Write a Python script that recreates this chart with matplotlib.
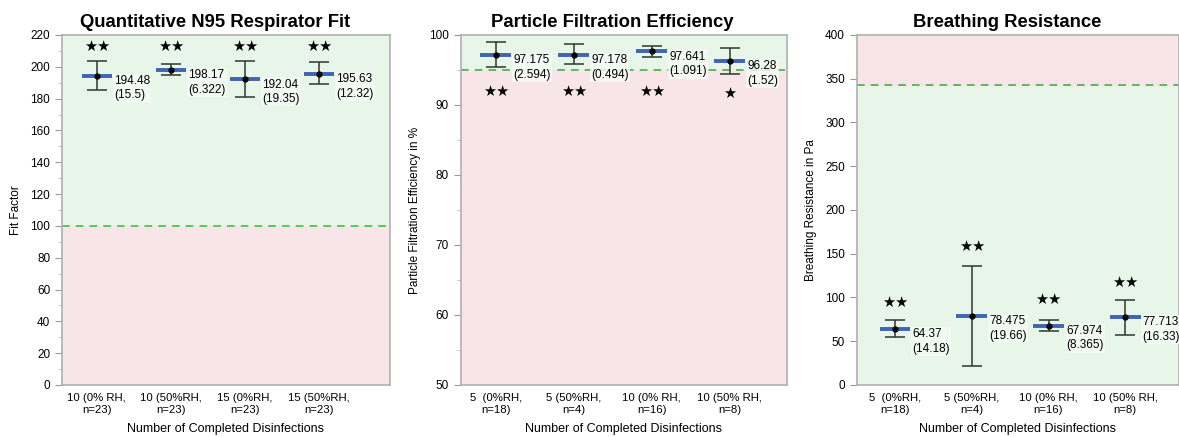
import numpy as np
import matplotlib.pyplot as plt
from matplotlib.ticker import MultipleLocator

plt.rcParams['font.family'] = ['Liberation Sans', 'DejaVu Sans']

# panel 1: fit factor
fit_labels = ['10 (0% RH,\nn=23)', '10 (50%RH,\nn=23)', '15 (0%RH,\nn=23)', '15 (50%RH,\nn=23)']
fit_mean = [194.48, 198.17, 192.04, 195.63]
fit_sd = ['15.5', '6.322', '19.35', '12.32']
fit_lo = [185.5, 194.6, 180.7, 188.9]
fit_hi = [203.6, 201.9, 203.6, 202.8]
fit_star = ['★★', '★★', '★★', '★★']
fit_star_y = [212.5, 212.5, 212.5, 212.5]

# panel 2: particle filtration efficiency
pfe_labels = ['5  (0%RH,\nn=18)', '5 (50%RH,\nn=4)', '10 (0% RH,\nn=16)', '10 (50% RH,\nn=8)']
pfe_mean = [97.175, 97.178, 97.641, 96.28]
pfe_sd = ['2.594', '0.494', '1.091', '1.52']
pfe_lo = [95.4, 95.8, 96.9, 94.4]
pfe_hi = [99.0, 98.7, 98.4, 98.2]
pfe_star = ['★★', '★★', '★★', '★']
pfe_star_y = [92.0, 92.0, 92.0, 91.6]

# panel 3: breathing resistance
br_labels = ['5  (0%RH,\nn=18)', '5 (50%RH,\nn=4)', '10 (0% RH,\nn=16)', '10 (50% RH,\nn=8)']
br_mean = [64.37, 78.475, 67.974, 77.713]
br_sd = ['14.18', '19.66', '8.365', '16.33']
br_lo = [54.4, 21.3, 61.6, 57.5]
br_hi = [74.1, 135.7, 74.6, 97.7]
br_star = ['★★', '★★', '★★', '★★']
br_star_y = [94.0, 158.5, 98.0, 117.5]

green_bg = '#e7f6e9'
pink_bg = '#f8e5e7'

fig = plt.figure(figsize=(11.79, 4.37), dpi=100)

panels = [
    dict(rect=[0.0526, 0.119, 0.278, 0.801], title='Quantitative N95 Respirator Fit',
         ylabel='Fit Factor', labels=fit_labels, mean=fit_mean, sd=fit_sd, lo=fit_lo, hi=fit_hi,
         star=fit_star, star_y=fit_star_y, ylim=(0, 220), major=20, minor=10,
         thr=100, good_above=True, thr_color='#22c822', xlim=(-0.47, 3.96)),
    dict(rect=[0.3908, 0.119, 0.2765, 0.801], title='Particle Filtration Efficiency',
         ylabel='Particle Filtration Efficiency in %', labels=pfe_labels, mean=pfe_mean, sd=pfe_sd,
         lo=pfe_lo, hi=pfe_hi, star=pfe_star, star_y=pfe_star_y, ylim=(50, 100), major=10, minor=5,
         thr=95, good_above=True, thr_color='#3aa83a', xlim=(-0.45, 3.73)),
    dict(rect=[0.7266, 0.119, 0.2734, 0.801], title='Breathing Resistance',
         ylabel='Breathing Resistance in Pa', labels=br_labels, mean=br_mean, sd=br_sd,
         lo=br_lo, hi=br_hi, star=br_star, star_y=br_star_y, ylim=(0, 400), major=50, minor=None,
         thr=343, good_above=False, thr_color='#3aa83a', xlim=(-0.5, 3.70)),
]

for p in panels:
    ax = fig.add_axes(p['rect'])
    x = np.arange(len(p['mean']))
    y0, y1 = p['ylim']
    ax.set_xlim(*p['xlim'])
    ax.set_ylim(y0, y1)
    if p['good_above']:
        ax.axhspan(p['thr'], y1, color=green_bg, zorder=0)
        ax.axhspan(y0, p['thr'], color=pink_bg, zorder=0)
    else:
        ax.axhspan(y0, p['thr'], color=green_bg, zorder=0)
        ax.axhspan(p['thr'], y1, color=pink_bg, zorder=0)
    ax.axhline(p['thr'], color=p['thr_color'], ls=(0, (5, 4)), lw=1.1, zorder=1)

    mean = np.array(p['mean'])
    lo = np.array(p['lo'])
    hi = np.array(p['hi'])
    ax.errorbar(x, mean, yerr=[mean - lo, hi - mean], fmt='none', ecolor='#2b3a2c',
                elinewidth=1.1, capsize=7, capthick=1.1, zorder=3)
    ax.hlines(mean, x - 0.2, x + 0.2, color='#3e64b4', lw=2.8, zorder=4)
    ax.plot(x, mean, 'o', color='black', ms=3.5, zorder=5)

    for xi, m, s in zip(x, p['mean'], p['sd']):
        ax.annotate(f'{m:g}\n({s})', (xi, m), xytext=(12.5, -9), textcoords='offset points',
                    ha='left', va='center', fontsize=8.5, linespacing=1.3, zorder=6,
                    bbox=dict(boxstyle='square,pad=0.1', fc='#f6fbf6', ec='none', alpha=0.8))
    for xi, st, sy in zip(x, p['star'], p['star_y']):
        ax.text(xi, sy, st, ha='center', va='center', fontsize=10.5,
                family=['DejaVu Sans'], zorder=6)

    ax.set_title(p['title'], fontsize=13.3, fontweight='bold', pad=6, x=0.466)
    ax.set_ylabel(p['ylabel'], fontsize=8.5, labelpad=6)
    ax.set_xlabel('Number of Completed Disinfections', fontsize=9, labelpad=6)
    ax.set_xticks(x)
    ax.set_xticklabels(p['labels'], fontsize=8.2, linespacing=1.2)
    ax.tick_params(axis='x', length=0, pad=6)
    ax.yaxis.set_major_locator(MultipleLocator(p['major']))
    if p['minor']:
        ax.yaxis.set_minor_locator(MultipleLocator(p['minor']))
    ax.tick_params(axis='y', which='major', length=5, color='#999999', labelsize=8.5)
    ax.tick_params(axis='y', which='minor', length=3, color='#bbbbbb')
    for sp in ax.spines.values():
        sp.set_color('#b0b0b0')
        sp.set_linewidth(1.2)

fig.savefig('out.png', dpi=100)
